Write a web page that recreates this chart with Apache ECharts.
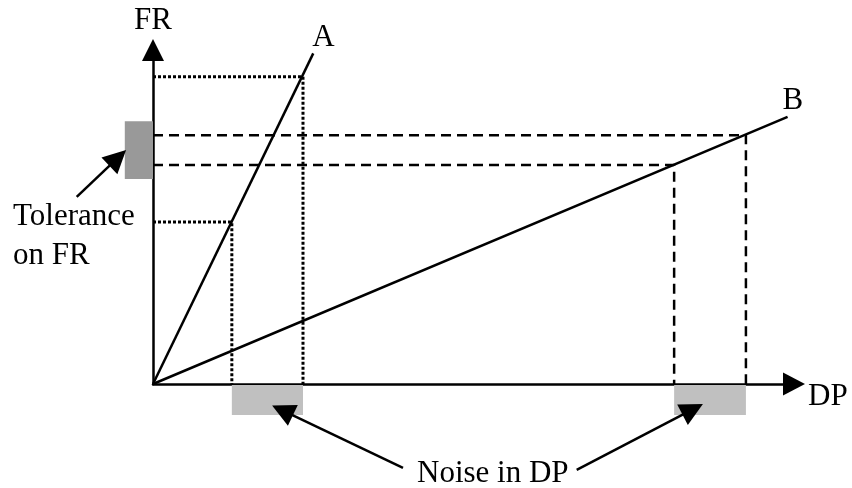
<!DOCTYPE html>
<html>
<head>
<meta charset="utf-8">
<script src="https://cdn.jsdelivr.net/npm/echarts@6/dist/echarts.min.js"></script>
<style>
  html, body { margin: 0; padding: 0; background: #fff; }
  #chart { width: 852px; height: 488px; }
</style>
</head>
<body>
<div id="chart"></div>
<script>
// characteristic lines (DP, FR)
var lineA = [[0, 0], [25, 99]];
var lineB = [[0, 0], [99, 80]];

// noise band on DP and matching FR for each line
var noiseDpA = [12.3, 23.4];
var frA = [48.5, 92];
var noiseDpB = [81.3, 92.5];
var frB = [65.6, 74.5];

// tolerance band on FR
var tolFR = [61.7, 79];

// annotation arrows: [from, to] in axis units
var arrowTol = [[-11.9, 56], [-5.5, 67.7]];
var arrowNoiseA = [[39, -25.1], [20.2, -7.9]];
var arrowNoiseB = [[66.1, -25.7], [84.2, -7.6]];

var font = '"Liberation Serif", "Times New Roman", serif';
var ink = '#000';

function guide(dp, fr) {
  var pts = [];
  for (var i = 0; i < dp.length; i++) {
    pts.push([[0, fr[i]], [dp[i], fr[i]], [dp[i], 0]]);
  }
  return pts;
}

var chartDom = document.getElementById('chart');
var myChart = echarts.init(chartDom);
var option;

var series = [];

// grey bands below the x axis and left of the y axis
series.push({
  type: 'custom',
  clip: false,
  silent: true,
  z: 1,
  data: [
    [noiseDpA[0], noiseDpA[1], 0],
    [noiseDpB[0], noiseDpB[1], 0],
    [tolFR[0], tolFR[1], 1]
  ],
  renderItem: function (params, api) {
    var a = api.value(0), b = api.value(1), kind = api.value(2);
    var p0, p1, color;
    if (kind === 0) {
      p0 = api.coord([a, 0]);
      p1 = api.coord([b, -9]);
      color = '#c0c0c0';
    } else {
      p0 = api.coord([-4.4, b]);
      p1 = api.coord([0, a]);
      color = '#999999';
    }
    return {
      type: 'rect',
      shape: { x: p0[0], y: p0[1] + 1, width: p1[0] - p0[0], height: p1[1] - p0[1] },
      style: { fill: color }
    };
  }
});

// dotted guides for A, dashed guides for B
guide(noiseDpA, frA).forEach(function (pts) {
  series.push({
    type: 'line', data: pts, symbol: 'none', silent: true, z: 2,
    lineStyle: { color: ink, width: 3, type: [3, 2] }
  });
});
guide(noiseDpB, frB).forEach(function (pts) {
  series.push({
    type: 'line', data: pts, symbol: 'none', silent: true, z: 2,
    lineStyle: { color: ink, width: 2.5, type: [10, 6] }
  });
});

series.push({
  name: 'A', type: 'line', data: lineA, symbol: 'none', silent: true, clip: false, z: 3,
  lineStyle: { color: ink, width: 2.5 },
  endLabel: { show: true, formatter: 'A', color: ink, fontFamily: font, fontSize: 31, offset: [-9, -15] }
});
series.push({
  name: 'B', type: 'line', data: lineB, symbol: 'none', silent: true, clip: false, z: 3,
  lineStyle: { color: ink, width: 2.5 },
  endLabel: { show: true, formatter: 'B', color: ink, fontFamily: font, fontSize: 31, offset: [-13, -16] }
});

// pointer arrows from the notes
series.push({
  type: 'lines',
  coordinateSystem: 'cartesian2d',
  clip: false,
  silent: true,
  z: 4,
  symbol: ['none', 'triangle'],
  symbolSize: 23,
  lineStyle: { color: ink, width: 2.5, opacity: 1 },
  itemStyle: { color: ink },
  data: [
    { coords: arrowTol },
    { coords: arrowNoiseA },
    { coords: arrowNoiseB }
  ]
});

option = {
  animation: false,
  grid: { left: 153, right: 58, top: 50, bottom: 104 },
  xAxis: {
    type: 'value', min: 0, max: 100,
    name: 'DP', nameLocation: 'end', nameGap: 14,
    nameTextStyle: { color: ink, fontFamily: font, fontSize: 31, lineHeight: 25, verticalAlign: 'top', align: 'left' },
    axisLine: { lineStyle: { color: ink, width: 2.5 }, symbol: ['none', 'triangle'], symbolSize: [23, 22] },
    axisTick: { show: false }, axisLabel: { show: false }, splitLine: { show: false }
  },
  yAxis: {
    type: 'value', min: 0, max: 100,
    name: 'FR', nameLocation: 'end', nameGap: 14,
    nameTextStyle: { color: ink, fontFamily: font, fontSize: 31, align: 'center' },
    axisLine: { lineStyle: { color: ink, width: 2.5 }, symbol: ['none', 'triangle'], symbolSize: [22, 22] },
    axisTick: { show: false }, axisLabel: { show: false }, splitLine: { show: false }
  },
  graphic: [
    {
      type: 'text', left: 13, top: 197,
      style: { text: 'Tolerance\non FR', fill: ink, font: '31px ' + font, lineHeight: 39 }
    },
    {
      type: 'text', left: 417, top: 458,
      style: { text: 'Noise in DP', fill: ink, font: '31px ' + font }
    }
  ],
  series: series
};

option && myChart.setOption(option);
</script>
</body>
</html>
